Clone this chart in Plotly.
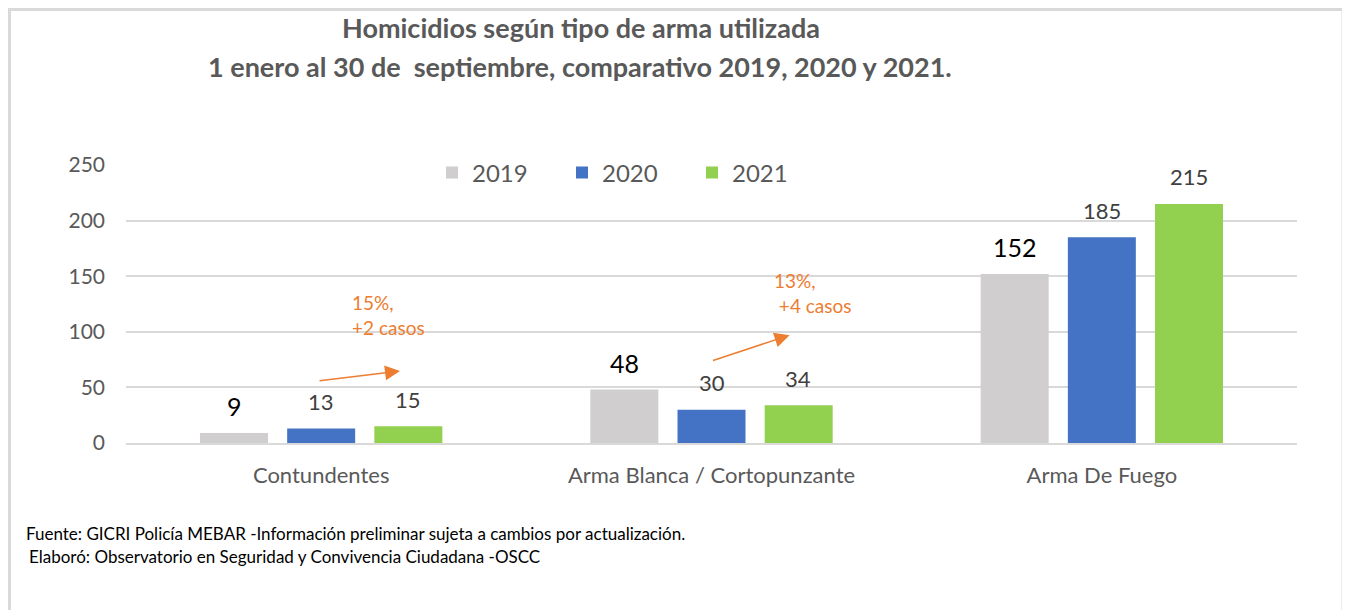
import plotly.graph_objects as go

categories = ["Contundentes", "Arma Blanca / Cortopunzante", "Arma De Fuego"]
years = ["2019", "2020", "2021"]
values_2019 = [9, 48, 152]
values_2020 = [13, 30, 185]
values_2021 = [15, 34, 215]
change_labels = ["15%,<br>+2 casos", "13%,<br> +4 casos", "16%,<br>+30 casos"]
y_ticks = [0, 50, 100, 150, 200, 250]

series = [values_2019, values_2020, values_2021]
colors = ["#D0CECE", "#4472C4", "#92D050"]
label_colors = ["#000000", "#404040", "#404040"]
label_sizes = [25, 22, 22]
FONT = "Lato"

# page layout helpers (page pixel -> paper coordinates); plot area spans x 126..1297, y 165..443
PL, PW, PB, PH = 126, 1171, 443, 278
def px(xp):
    return (xp - PL) / PW
def py(yp):
    return (PB - yp) / PH

fig = go.Figure()
for yr, vals, col in zip(years, series, colors):
    fig.add_trace(go.Bar(name=yr, x=list(range(len(categories))), y=vals,
                         marker=dict(color=col, line=dict(width=0))))

slot = 0.2228
annotations = []
for j, vals in enumerate(series):
    for i, v in enumerate(vals):
        annotations.append(dict(x=i + (j - 1) * slot, y=v, xref="x", yref="y",
                                text=str(v), showarrow=False, yshift=27, yanchor="middle",
                                font=dict(family=FONT, size=label_sizes[j], color=label_colors[j])))

# change arrows (orange)
arrow_specs = [
    # (x_start, y_start, x_end, y_end, text_x, text_y)
    (-0.008, 55.8, 0.202, 64.7, 0.074, 115),
    (0.0, 73.7, 0.2, 97.0, 0.154, 135.3),
    (-0.008, 266, 0.2, 285.6, 0.161, 321.5),
]
for i, (xs, ys, xe, ye, tx, ty) in enumerate(arrow_specs):
    annotations.append(dict(x=i + xe, y=ye, ax=i + xs, ay=ys, xref="x", yref="y",
                            axref="x", ayref="y", text="", showarrow=True,
                            arrowhead=2, arrowsize=2, arrowwidth=1.5, arrowcolor="#ED7D31"))
    annotations.append(dict(x=i + tx, y=ty, xref="x", yref="y", text=change_labels[i],
                            showarrow=False, xanchor="left", yanchor="middle", align="left",
                            font=dict(family=FONT, size=19, color="#ED7D31")))

# titles
annotations.append(dict(x=px(581), y=py(27), xref="paper", yref="paper", yanchor="middle",
                        text="<b>Homicidios según tipo de arma utilizada</b>", showarrow=False,
                        font=dict(family=FONT, size=27, color="#595959")))
annotations.append(dict(x=px(580), y=py(67), xref="paper", yref="paper", yanchor="middle",
                        text="<b>1 enero al 30 de  septiembre, comparativo 2019, 2020 y 2021.</b>",
                        showarrow=False, font=dict(family=FONT, size=27, color="#595959")))
# footnotes
annotations.append(dict(x=px(24), y=py(533), xref="paper", yref="paper",
                        xanchor="left", yanchor="middle",
                        text="Fuente: GICRI Policía MEBAR -Información preliminar sujeta a cambios por actualización.",
                        showarrow=False, font=dict(family=FONT, size=17, color="#000000")))
annotations.append(dict(x=px(27), y=py(556), xref="paper", yref="paper",
                        xanchor="left", yanchor="middle",
                        text="Elaboró: Observatorio en Seguridad y Convivencia Ciudadana -OSCC",
                        showarrow=False, font=dict(family=FONT, size=17, color="#000000")))

fig.update_layout(
    width=1350, height=610,
    # page body has an 8px offset; compensate so plot area lands at page 126..1297 x 165..443
    margin=dict(l=118, r=61, t=157, b=175),
    paper_bgcolor="white", plot_bgcolor="white",
    barmode="group", bargap=0.33, bargroupgap=0.22,
    font=dict(family=FONT, color="#595959"),
    legend=dict(orientation="h", x=px(432), y=py(173), xanchor="left", yanchor="middle",
                font=dict(family=FONT, size=24, color="#595959"), itemwidth=30,
                entrywidth=85, entrywidthmode="pixels",
                bgcolor="rgba(0,0,0,0)"),
    annotations=annotations,
    shapes=[dict(type="rect", xref="paper", yref="paper",
                 x0=px(9.5), x1=px(1343), y0=py(640), y1=py(9.5),
                 line=dict(color="#D9D9D9", width=3), layer="below")],
)
fig.update_xaxes(tickmode="array", tickvals=list(range(len(categories))), ticktext=categories,
                 range=[-0.5, 2.5], showgrid=False, showline=True, linecolor="#D9D9D9", linewidth=1.5,
                 ticks="", ticklabelstandoff=12, tickfont=dict(family=FONT, size=22, color="#595959"))
fig.update_yaxes(range=[0, 250], tickvals=y_ticks, showgrid=True, gridcolor="#D9D9D9", gridwidth=1.5,
                 zeroline=False, showline=False, ticks="", ticklabelstandoff=20,
                 tickfont=dict(family=FONT, size=21, color="#595959"))

fig.write_html("out.html")
